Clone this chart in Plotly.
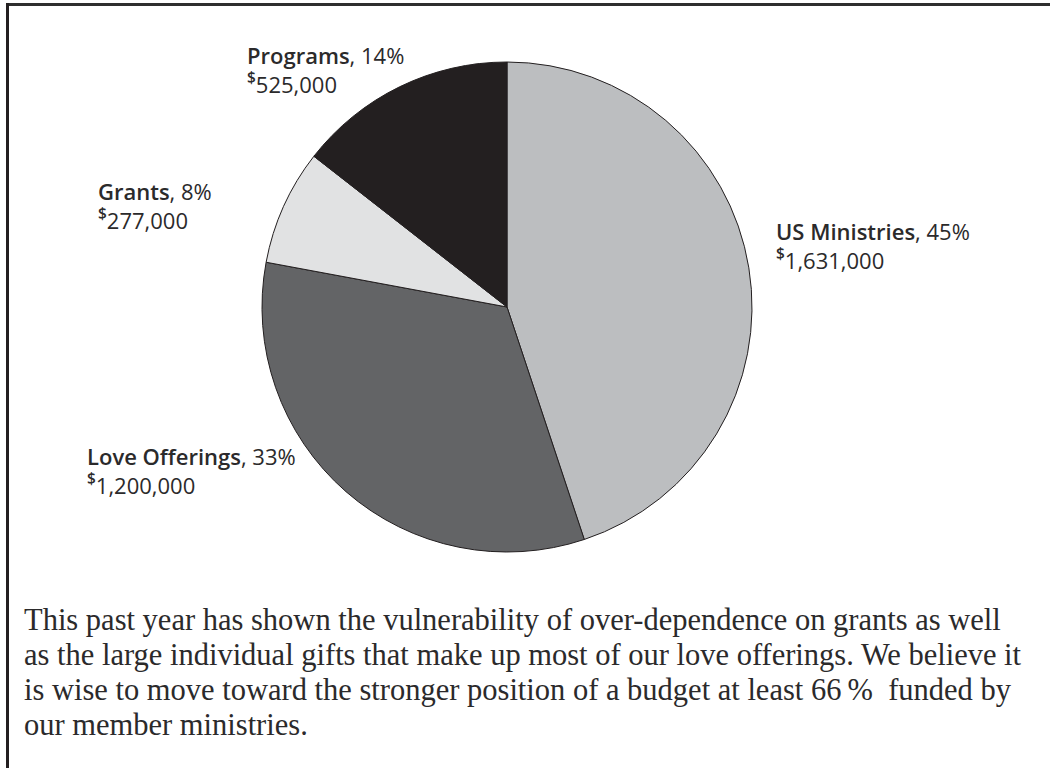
import plotly.graph_objects as go

# ---- data ----
categories = ["US Ministries", "Love Offerings", "Grants", "Programs"]
amounts = [1631000, 1200000, 277000, 525000]
percents = [45, 33, 8, 14]
note_lines = [
    "This past year has shown the vulnerability of over-dependence on grants as well",
    "as the large individual gifts that make up most of our love offerings. We believe it",
    "is wise to move toward the stronger position of a budget at least 66\u2009%  funded by",
    "our member ministries.",
]

# ---- style ----
W, H = 1050, 768
slice_colors = ["#bcbec0", "#636466", "#e1e2e3", "#231f20"]
ink = "#231f20"
label_ink = "#2b2a2b"
# label anchor positions in pixels (left, top)
label_pos = {
    "US Ministries": (774, 214),
    "Love Offerings": (85, 439),
    "Grants": (96, 174),
    "Programs": (245, 38),
}
note_left, note_top, note_step = 22, 601, 35

cx, cy, r = 507, 307, 245

fig = go.Figure()
fig.add_trace(go.Pie(
    labels=categories,
    values=amounts,
    sort=False,
    direction="clockwise",
    rotation=0,
    textinfo="none",
    marker=dict(colors=slice_colors, line=dict(color=ink, width=1)),
    domain=dict(x=[(cx - r) / W, (cx + r) / W], y=[1 - (cy + r) / H, 1 - (cy - r) / H]),
    hoverinfo="label+value+percent",
))

annotations = []
for name, amt, pct in zip(categories, amounts, percents):
    px, py = label_pos[name]
    txt = (f'<span style="font-weight:600">{name}</span>, {pct}%'
           f'<br><span style="font-weight:600"><sup>$</sup></span>{amt:,}')
    annotations.append(dict(
        x=px / W, y=1 - py / H, xref="paper", yref="paper",
        xanchor="left", yanchor="top", align="left", showarrow=False,
        text=txt, font=dict(family="Open Sans", size=22, color=label_ink),
    ))

for i, line in enumerate(note_lines):
    annotations.append(dict(
        x=note_left / W, y=1 - (note_top + i * note_step) / H, xref="paper", yref="paper",
        xanchor="left", yanchor="top", align="left", showarrow=False,
        text=line,
        font=dict(family="Liberation Serif", size=30.5, color=label_ink),
    ))

shapes = [
    dict(type="line", xref="paper", yref="paper", x0=6 / W, x1=1, y0=1 - 4.5 / H, y1=1 - 4.5 / H,
         line=dict(color="#2e2e2e", width=3)),
    dict(type="line", xref="paper", yref="paper", x0=7.5 / W, x1=7.5 / W, y0=0, y1=1 - 3 / H,
         line=dict(color=ink, width=3)),
]

fig.update_layout(
    width=W, height=H,
    margin=dict(l=0, r=0, t=0, b=0),
    paper_bgcolor="white", plot_bgcolor="white",
    showlegend=False,
    annotations=annotations,
    shapes=shapes,
)

fig.write_html(
    "out.html",
    config={"displayModeBar": False},
    post_script="document.body.style.margin='0';document.body.style.overflow='hidden';",
)
